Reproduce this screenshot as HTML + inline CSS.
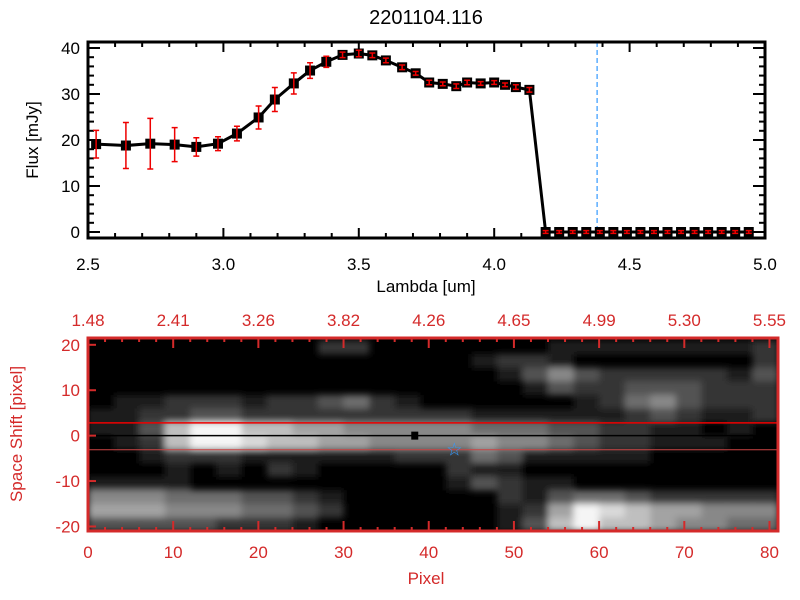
<!DOCTYPE html>
<html><head><meta charset="utf-8"><style>
body{margin:0;background:#fff;}
svg{display:block;font-family:"Liberation Sans",sans-serif;}
</style></head><body>
<svg id="c" width="800" height="600" viewBox="0 0 800 600">
<defs>
<filter id="bl" x="-5%" y="-5%" width="110%" height="110%"><feGaussianBlur stdDeviation="3.5"/></filter>
<clipPath id="cp"><rect x="88" y="338" width="690" height="193"/></clipPath>
</defs>
<rect width="800" height="600" fill="#fff"/>
<text x="426" y="24" text-anchor="middle" font-size="20">2201104.116</text>
<g id="top"></g>
<g id="bot"></g>
</svg>
<script>
const lambdas=[2.53,2.64,2.73,2.82,2.90,2.98,3.05,3.13,3.19,3.26,3.32,3.38,3.44,3.50,3.55,3.60,3.66,3.71,3.76,3.81,3.86,3.90,3.95,4.00,4.04,4.08,4.13,4.19,4.24,4.29,4.34,4.39,4.44,4.49,4.54,4.59,4.64,4.69,4.74,4.79,4.84,4.89,4.94];
const flux=[19.1,18.8,19.2,19.0,18.5,19.2,21.4,24.9,28.8,32.3,35.1,37.0,38.5,38.8,38.4,37.3,35.8,34.5,32.5,32.2,31.7,32.5,32.3,32.5,32.0,31.5,30.9,0,0,0,0,0,0,0,0,0,0,0,0,0,0,0,0];
const fluxErr=[3,5,5.5,3.7,2,1.5,1.6,2.5,2.6,2.3,1.7,1.2,0.6,0.7,0.5,0.5,0.5,0.4,0.5,0.4,0.5,0.5,0.4,0.4,0.4,0.5,0.5,0.3,0.3,0.3,0.3,0.3,0.3,0.3,0.3,0.3,0.3,0.3,0.3,0.3,0.3,0.3,0.3];
const xTicks=[2.5,3.0,3.5,4.0,4.5,5.0];
const yTicks=[0,10,20,30,40];
const markLambda=4.38;
const pixTicks=[0,10,20,30,40,50,60,70,80];
const topLabels=["1.48","2.41","3.26","3.82","4.26","4.65","4.99","5.30","5.55"];
const shiftTicks=[20,10,0,-10,-20];
const heat=[
"000000000220000000111111112",
"000000000000000122100000002",
"000000000000000013532222213",
"000000000000000001322333222",
"011222122342100000012453222",
"112233222222222111111232112",
"113799776655555444332211010",
"012799877665555655432211100",
"001222111111222431111100000",
"000101021000002110000000000",
"111100000000001321100000000",
"555444332100000021344322222",
"666555443200000012698766555",
"333332221000000013797765544"];
const NS="http://www.w3.org/2000/svg";
function mk(p,t,a){const e=document.createElementNS(NS,t);for(const k in a)e.setAttribute(k,a[k]);p.appendChild(e);return e;}
const T=document.getElementById('top');
const X0=88,X1=765,Y0=42,Y1=238;
const sx=v=>X0+(v-2.5)/2.5*(X1-X0);
const sy=v=>232-v*4.6;
for(let v=2.5;v<=5.001;v+=0.1){const x=sx(v);const maj=Math.abs(v*2-Math.round(v*2))<1e-6;
 const t1=mk(T,'line',{x1:x,x2:x,y1:Y1,y2:Y1-(maj?10:5),stroke:'#000','stroke-width':2});
 mk(T,'line',{x1:x,x2:x,y1:Y0,y2:Y0+(maj?10:5),stroke:'#000','stroke-width':2});}
for(let v=0;v<=40;v+=2){const y=sy(v);const maj=v%10==0;
 mk(T,'line',{x1:X0,x2:X0+(maj?12:6),y1:y,y2:y,stroke:'#000','stroke-width':2});
 mk(T,'line',{x1:X1,x2:X1-(maj?12:6),y1:y,y2:y,stroke:'#000','stroke-width':2});}
xTicks.forEach(v=>{const t=mk(T,'text',{x:sx(v),y:270,'text-anchor':'middle','font-size':17});t.textContent=v.toFixed(1);
 });
yTicks.forEach(v=>{const t=mk(T,'text',{x:80,y:sy(v)+6,'text-anchor':'end','font-size':17});t.textContent=v;
 });
const xl=mk(T,'text',{x:426,y:292,'text-anchor':'middle','font-size':17});xl.textContent='Lambda [um]';

const yl=mk(T,'text',{x:38,y:140,'text-anchor':'middle','font-size':17,transform:'rotate(-90 38 140)'});yl.textContent='Flux [mJy]';

const vl=mk(T,'line',{x1:sx(markLambda),x2:sx(markLambda),y1:Y0,y2:Y1,stroke:'#3399ff','stroke-width':1.2,'stroke-dasharray':'5,3'});

const pl=mk(T,'polyline',{points:lambdas.map((l,i)=>sx(l)+','+sy(flux[i])).join(' '),fill:'none',stroke:'#000','stroke-width':3});

lambdas.forEach((l,i)=>{const x=sx(l),y=sy(flux[i]);
 const r=mk(T,'rect',{x:x-5,y:y-5,width:10,height:10,fill:'#000'});
 
 const e=fluxErr[i]*4.6;
 const g=mk(T,'path',{d:`M${x},${y-e}V${y+e}M${x-3},${y-e}h6M${x-3},${y+e}h6`,stroke:'#e00',fill:'none','stroke-width':1.5});
 });
mk(T,'rect',{x:X0,y:Y0,width:X1-X0,height:Y1-Y0,fill:'none',stroke:'#000','stroke-width':3});
const B=document.getElementById('bot');const R='#d42a2a';
const BX0=88,BX1=778,BY0=338,BY1=531;
const px=v=>BX0+v/81*(BX1-BX0);
const py=v=>BY0+(21.5-v)/42.5*(BY1-BY0);
mk(B,'rect',{x:BX0,y:BY0,width:BX1-BX0,height:BY1-BY0,fill:'#000'});
const HC=mk(B,'g',{'clip-path':'url(#cp)'});
const H=mk(HC,'g',{filter:'url(#bl)'});

heat.forEach((row,ri)=>{for(let ci=0;ci<row.length;ci++){const v=+row[ci];if(!v)continue;
 const g=Math.round(v/9*245);const yTop=21-ri*3;
 const c=mk(H,'rect',{x:px(ci*3),y:py(yTop),width:px(ci*3+3)-px(ci*3)+0.5,height:py(yTop-3)-py(yTop)+0.5,fill:`rgb(${g},${g},${g})`});
 }});
mk(B,'line',{x1:BX0,x2:BX1,y1:py(2.8),y2:py(2.8),stroke:'#e00','stroke-width':1.5});
mk(B,'line',{x1:BX0,x2:BX1,y1:py(-3.1),y2:py(-3.1),stroke:'#c44','stroke-width':1});
mk(B,'line',{x1:BX0,x2:BX1,y1:py(0),y2:py(0),stroke:'#000','stroke-width':1.5});
mk(B,'rect',{x:px(38.3)-3,y:py(0)-4,width:7,height:8,fill:'#000'});
const st=mk(B,'text',{x:px(43),y:py(-3)+6,'text-anchor':'middle','font-size':18,fill:'#3399ff'});st.textContent='☆';

for(let v=0;v<=81;v+=2){const x=px(v);const maj=v%10==0;
 mk(B,'line',{x1:x,x2:x,y1:BY1,y2:BY1-(maj?10:4),stroke:R,'stroke-width':2});
 mk(B,'line',{x1:x,x2:x,y1:BY0,y2:BY0+(maj?10:4),stroke:R,'stroke-width':2});}
shiftTicks.forEach(v=>{mk(B,'line',{x1:BX0,x2:BX0+8,y1:py(v),y2:py(v),stroke:R,'stroke-width':2});
 const t=mk(B,'text',{x:80,y:py(v)+6,'text-anchor':'end','font-size':17,fill:R});t.textContent=v;
 });
pixTicks.forEach((v,i)=>{const t=mk(B,'text',{x:px(v),y:558,'text-anchor':'middle','font-size':17,fill:R});t.textContent=v;
 
 const u=mk(B,'text',{x:px(v),y:326,'text-anchor':'middle','font-size':17,fill:R});u.textContent=topLabels[i];
 });
mk(B,'rect',{x:BX0,y:BY0,width:BX1-BX0,height:BY1-BY0,fill:'none',stroke:R,'stroke-width':3});
const bx=mk(B,'text',{x:426,y:584,'text-anchor':'middle','font-size':17,fill:R});bx.textContent='Pixel';

const by=mk(B,'text',{x:22,y:434,'text-anchor':'middle','font-size':17,fill:R,transform:'rotate(-90 22 434)'});by.textContent='Space Shift [pixel]';

</script>
</body></html>
